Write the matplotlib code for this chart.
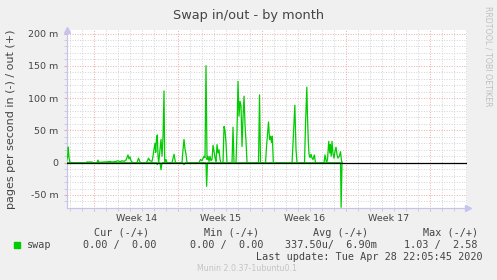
"""
Munin style chart: swap in/out by month.
"""

import matplotlib
matplotlib.use("Agg")
import matplotlib.pyplot as plt
from matplotlib.patches import Rectangle
import numpy as np

# swap out (positive side), hours from Monday of week 14, values in milli pages/s
out_hours = [-55.2, -53.2, -52.0, -50.6, -49.2, -47.6, -16.6, -14.6, -4.6, -2.6,
             5.4, 7.4, 9.4, 19.4, 27.4, 31.4, 35.4, 43.4, 47.4, 51.4,
             55.4, 59.4, 63.4, 65.4, 67.4, 69.4, 71.4, 73.4, 75.4, 79.4,
             85.4, 88.4, 91.4, 93.4, 103.4, 106.4, 108.4, 111.4, 115.4, 117.4,
             119.4, 121.4, 122.8, 124.4, 126.0, 127.4, 128.8, 131.4, 133.4, 135.4,
             137.4, 139.4, 140.8, 143.4, 145.4, 155.4, 159.4, 162.4, 175.4, 177.4,
             179.4, 181.4, 183.4, 185.4, 209.4, 212.4, 215.4, 219.4, 221.4, 223.4,
             225.4, 227.4, 229.4, 231.4, 233.4, 235.4, 237.4, 239.4, 241.4, 243.4,
             245.4, 247.4, 249.4, 251.4, 253.4, 257.4, 259.4, 261.4, 263.4, 265.4,
             275.4, 277.4, 279.4, 283.4, 285.4, 287.4, 289.4, 291.4, 293.4, 295.4,
             297.4, 299.4, 301.4, 303.4, 305.4, 328.4, 330.4, 332.4, 342.4, 344.4,
             346.4, 348.4, 350.4, 352.4, 354.4, 356.0, 358.0, 395.4, 397.4, 401.0,
             403.4, 405.4, 420.4, 422.4, 425.0, 426.4, 428.0, 429.4, 431.4, 433.4,
             435.4, 437.4, 440.0, 442.4, 459.4, 461.4, 464.4, 466.4, 468.8, 470.8,
             472.0, 473.8, 475.4, 477.4, 479.4, 481.4, 483.4, 485.4, 487.4, 490.0,
             492.4, 494.0, 495.4]
out_vals = [4, 10, 24, 8, 2, 0, 0, 1, 1, 0,
            0, 4, 0.5, 1, 1.5, 2, 1, 2, 3, 1.5,
            3, 2, 4, 8, 12, 6, 9, 3, 1, 0,
            0, 7, 1, 0, 0, 3, 7, 3, 2, 10,
            21, 30, 16, 38, 43, 10, 0, 20, 36, 10,
            40, 111, 0, 5, 0, 0, 13, 0, 0, 20,
            36, 21, 13, 0, 0, 5, 3, 10, 8, 150,
            5, 10, 2, 10, 3, 5, 27, 18, 8, 2,
            28, 15, 20, 5, 0, 0, 56, 50, 30, 0,
            0, 55, 0, 0, 50, 126, 72, 95, 88, 25,
            70, 103, 59, 33, 0, 0, 105, 0, 0, 25,
            45, 63, 36, 41, 31, 41, 0, 0, 30, 89,
            20, 0, 0, 60, 117, 70, 33, 13, 8, 13,
            7, 5, 12, 0, 0, 12, 0, 5, 33, 15,
            28, 10, 33, 14, 7, 18, 24, 12, 7, 10,
            17, 5, 0]

# swap in (drawn negative)
in_hours = [-55.2, 124.4, 126.0, 127.4, 131.4, 133.4, 135.4, 177.4, 179.4, 181.4,
            221.4, 223.4, 224.6, 226.4, 492.4, 493.6, 495.4]
in_vals = [0, 0, -3, 0, 0, -11, 0, 0, -3, 0,
           0, 0, -36.5, 0, 0, -69, 0]

week_names = ["Week 14", "Week 15", "Week 16", "Week 17"]
y_ticks = [-50, 0, 50, 100, 150, 200]
y_labels = ["-50 m", "0", "50 m", "100 m", "150 m", "200 m"]

W, H = 497, 280
GREEN = "#00cc00"
TXT = "#444444"
AXCOL = "#c4c4ee"

fig = plt.figure(figsize=(W / 100, H / 100), dpi=100)
fig.patch.set_facecolor("#f0f0f0")

# canvas area in pixels
left, right, top, bottom = 66.7, 466.7, 29.5, 207.7
ax = fig.add_axes([left / W, 1 - bottom / H, (right - left) / W, (bottom - top) / H])
ax.set_facecolor("white")

ax.set_xlim(-2.3, 31.03)
ax.set_ylim(-69.7, 206.2)

# grid: minor grey every 10m / every day, major red every 50m / every week
dots = (0, (1, 1.6))
for v in range(-60, 201, 10):
    if v % 50 == 0:
        continue
    ax.axhline(v, color="#d2d2d2", lw=0.7, ls=dots, zorder=1)
for v in y_ticks:
    ax.axhline(v, color="#f0a8a8", lw=0.7, ls=dots, zorder=1)
for d in range(-2, 32):
    if d % 7 == 0:
        continue
    ax.axvline(d, color="#d2d2d2", lw=0.7, ls=dots, zorder=1)
for d in range(0, 32, 7):
    ax.axvline(d, ymin=-0.017, ymax=1, color="#f0a8a8", lw=0.7, ls=dots,
               zorder=1, clip_on=False)

# data
ax.plot(np.array(out_hours) / 24, out_vals, color=GREEN, lw=0.9, zorder=3)
ax.plot(np.array(in_hours) / 24, in_vals, color=GREEN, lw=0.9, zorder=3)
ax.plot([-2.3, 30.95], [0, 0], color="black", lw=0.9, zorder=4)

# axes look
for s in ["top", "right"]:
    ax.spines[s].set_visible(False)
for s in ["left", "bottom"]:
    ax.spines[s].set_color(AXCOL)
    ax.spines[s].set_linewidth(0.9)
ax.plot([0], [1.0], marker="^", ms=4, color=AXCOL, transform=ax.transAxes, clip_on=False)
ax.plot([1.0045], [0], marker=">", ms=4, color=AXCOL, transform=ax.transAxes, clip_on=False)

ax.set_yticks(y_ticks)
ax.set_yticklabels(y_labels)
ax.set_yticks(range(-60, 201, 10), minor=True)
ax.tick_params(axis="y", which="major", length=2, color="#f0a8a8", pad=3.8,
               labelsize=6.8, labelcolor=TXT)
ax.tick_params(axis="y", which="minor", length=2, color="#c8c8c8")

ax.set_xticks([3.5, 10.5, 17.5, 24.5])
ax.set_xticklabels(week_names)
ax.set_xticks(range(-2, 32), minor=True)
ax.tick_params(axis="x", which="major", length=0, pad=4.6, labelsize=6.8, labelcolor=TXT)
ax.tick_params(axis="x", which="minor", length=2.2, color="#c8c8c8")

# texts
def ftext(x, y, s, **kw):
    fig.text(x / W, 1 - y / H, s, **kw)

ftext(248.5, 19, "Swap in/out - by month", ha="center", va="baseline",
      fontsize=9.3, color=TXT)
ftext(11.5, 119, "pages per second in (-) / out (+)", ha="center", va="center",
      rotation=90, fontsize=8, color=TXT)
ftext(487.7, 56, "RRDTOOL / TOBI OETIKER", ha="center", va="center",
      rotation=270, fontsize=5.7, color="#c0c0c0")

mono = dict(family="DejaVu Sans Mono", fontsize=7.3, color=TXT, va="baseline")
ftext(94.3, 235.5, "Cur (-/+)", **mono)
ftext(204, 235.5, "Min (-/+)", **mono)
ftext(313.3, 235.5, "Avg (-/+)", **mono)
ftext(423, 235.5, "Max (-/+)", **mono)
ftext(26.7, 248, "swap", **mono)
ftext(83.3, 248, "0.00 /  0.00", **mono)
ftext(190, 248, "0.00 /  0.00", **mono)
ftext(285, 248, "337.50u/  6.90m", **mono)
ftext(404.3, 248, "1.03 /  2.58", **mono)
ftext(483, 260, "Last update: Tue Apr 28 22:05:45 2020", ha="right", **mono)
ftext(197.3, 271, "Munin 2.0.37-1ubuntu0.1", ha="left", va="baseline",
      fontsize=5.7, color="#c4c4c4")

# legend swatch
fig.patches.append(Rectangle((14 / W, 1 - 248 / H), 6 / W, 6 / H,
                             transform=fig.transFigure, color=GREEN))

plt.savefig("out.png", dpi=100, facecolor=fig.get_facecolor())
